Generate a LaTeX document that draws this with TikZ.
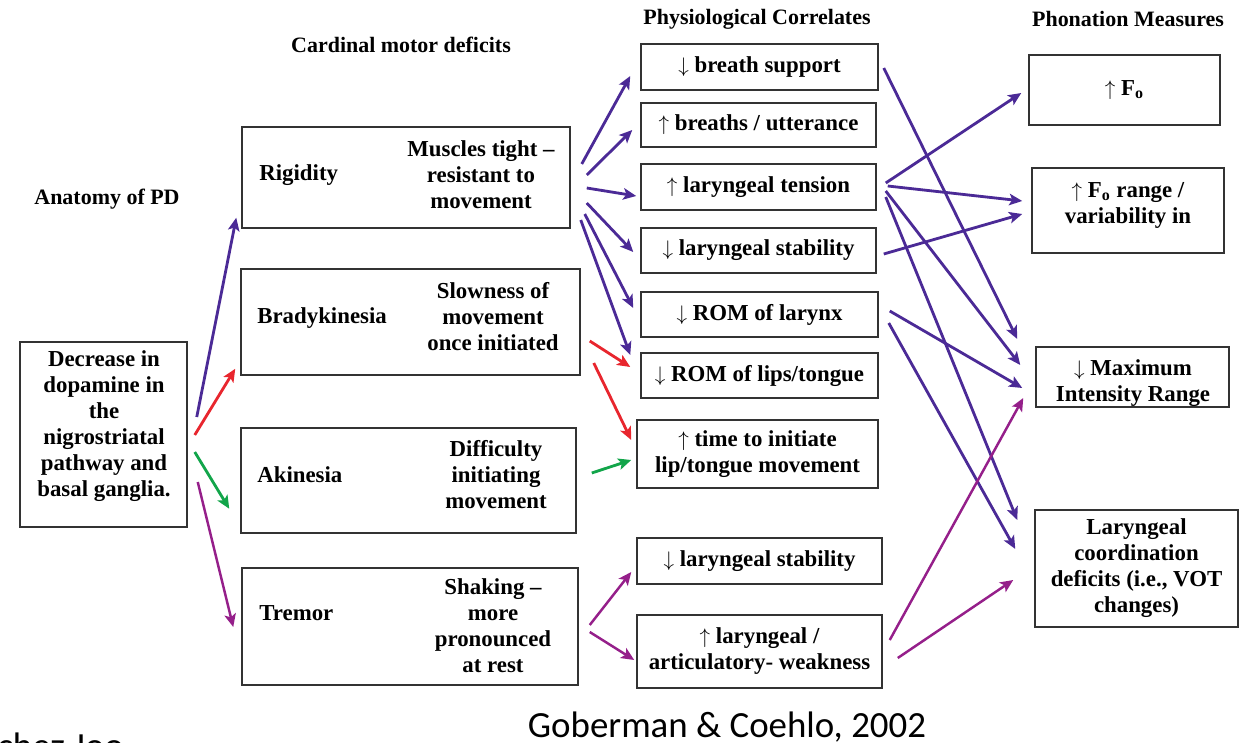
\documentclass[tikz,border=0pt]{standalone}
\usepackage{fontspec}
\setmainfont{Liberation Serif}
\newfontfamily\citefont{Carlito}
\usetikzlibrary{arrows.meta,fit}
\definecolor{pdpurple}{HTML}{4B2A96}
\definecolor{pdred}{HTML}{E8262E}
\definecolor{pdgreen}{HTML}{12A54A}
\definecolor{pdmagenta}{HTML}{951F8A}
\newcommand{\dn}{$\downarrow$}
\newcommand{\upar}{$\uparrow$}
\tikzset{
  box/.style={draw=black!80, line width=0.85pt, inner sep=0pt, fit={#1}},
  txt/.style={font=\bfseries\fontsize{13}{14.8}\selectfont, align=center, inner sep=0pt},
  head/.style={font=\bfseries\fontsize{12.5}{14}\selectfont, inner sep=0pt},
  link/.style={line width=1.6pt, -{Stealth[length=2.6mm,width=2.3mm,inset=0.6mm]}},
  cite/.style={font=\citefont\fontsize{21}{25}\selectfont, inner sep=0pt},
}
\begin{document}
\begin{tikzpicture}[x=0.02cm, y=-0.02cm]
\useasboundingbox (0,0) rectangle (1253,743);

% column headings
\node[head] (h-anat) at (107,199) {Anatomy of PD};
\node[head] (h-card) at (401,45) {Cardinal motor deficits};
\node[head] (h-phys) at (757,19) {Physiological Correlates};
\node[head] (h-phon) at (1128,19) {Phonation Measures};

% anatomy
\node[box={(20,342) (187,527)}] (dec) {};
\node[txt] (dec-t) at (104,426) {Decrease in\\dopamine in\\the\\nigrostriatal\\pathway and\\basal ganglia.};

% cardinal motor deficits
\node[box={(242,127) (570,228)}] (rig) {};
\node[txt, anchor=west] (rig-l) at (259,175) {Rigidity};
\node[txt] (rig-r) at (481,175) {Muscles tight --\\resistant to\\movement};

\node[box={(241,269) (580,375)}] (bra) {};
\node[txt, anchor=west] (bra-l) at (257,318) {Bradykinesia};
\node[txt] (bra-r) at (493,317) {Slowness of\\movement\\once initiated};

\node[box={(241,428) (576,533)}] (aki) {};
\node[txt, anchor=west] (aki-l) at (257,475) {Akinesia};
\node[txt] (aki-r) at (496,475) {Difficulty\\initiating\\movement};

\node[box={(242,568) (578,685)}] (tre) {};
\node[txt, anchor=west] (tre-l) at (259,613) {Tremor};
\node[txt] (tre-r) at (493,626) {Shaking --\\more\\pronounced\\at rest};

% physiological correlates
\node[box={(641,44) (878,90)}] (bs) {};
\node[txt] (bs-t) at (bs) {\dn\ breath support};
\node[box={(641,103) (876,147)}] (bu) {};
\node[txt] (bu-t) at (bu) {\upar\ breaths / utterance};
\node[box={(641,164) (876,210)}] (lt) {};
\node[txt] (lt-t) at (lt) {\upar\ laryngeal tension};
\node[box={(641,228) (876,273)}] (ls) {};
\node[txt] (ls-t) at (ls) {\dn\ laryngeal stability};
\node[box={(641,292) (878,337)}] (rl) {};
\node[txt] (rl-t) at (rl) {\dn\ ROM of larynx};
\node[box={(641,353) (878,398)}] (rlt) {};
\node[txt] (rlt-t) at (rlt) {\dn\ ROM of lips/tongue};
\node[box={(637,420) (878,488)}] (ti) {};
\node[txt] (ti-t) at (ti) {\upar\ time to initiate\\lip/tongue movement};
\node[box={(637,538) (882,584)}] (ls2) {};
\node[txt] (ls2-t) at (ls2) {\dn\ laryngeal stability};
\node[box={(637,615) (882,688)}] (wk) {};
\node[txt] (wk-t) at (wk) {\upar\ laryngeal /\\articulatory- weakness};

% phonation measures
\node[box={(1029,55) (1220,125)}] (f0) {};
\node[txt] (f0-t) at (f0) {\upar\ F\textsubscript{o}};
\node[box={(1032,168) (1224,253)}] (fr) {};
\node[txt] (fr-t) at (1128,205) {\upar\ F\textsubscript{o} range /\\variability in};
\node[box={(1036,347) (1229,407)}] (mi) {};
\node[txt] (mi-t) at (1133,383) {\dn\ Maximum\\Intensity Range};
\node[box={(1035,510) (1238,627)}] (lc) {};
\node[txt] (lc-t) at (lc) {Laryngeal\\coordination\\deficits (i.e., VOT\\changes)};

% anatomy -> cardinal deficits
\draw[link, pdpurple] ([shift={(9,-17.5)}]dec.east) -- ([shift={(-5,-11)}]rig.south west);
\draw[link, pdred] ([shift={(7,0.5)}]dec.east) -- ([shift={(-5,-7)}]bra.south west);
\draw[link, pdgreen] ([shift={(7,17.5)}]dec.east) -- ([shift={(-11,-25)}]aki.south west);
\draw[link, pdmagenta, line width=1.4pt] ([shift={(10,47.5)}]dec.east) -- ([shift={(-8,0.5)}]tre.west);

% rigidity -> physiological correlates
\draw[link, pdpurple] ([shift={(11,-13.5)}]rig.east) -- ([shift={(-10,9)}]bs.west);
\draw[link, pdpurple] ([shift={(16,-2.5)}]rig.east) -- ([shift={(-8,5)}]bu.west);
\draw[link, pdpurple] ([shift={(16,10.5)}]rig.east) -- ([shift={(-4,9)}]lt.west);
\draw[link, pdpurple] ([shift={(16,25.5)}]rig.east) -- ([shift={(-7,1.5)}]ls.west);
\draw[link, pdpurple] ([shift={(14,36.5)}]rig.east) -- ([shift={(-7,-6.5)}]rl.west);
\draw[link, pdpurple] ([shift={(10,42.5)}]rig.east) -- ([shift={(-10,-20.5)}]rlt.west);

% bradykinesia
\draw[link, pdred] ([shift={(9,19)}]bra.east) -- ([shift={(-10,-8.5)}]rlt.west);
\draw[link, pdred] ([shift={(13,41)}]bra.east) -- ([shift={(-5,-14)}]ti.west);

% akinesia
\draw[link, pdgreen] ([shift={(15,-7.5)}]aki.east) -- ([shift={(-5,6)}]ti.west);

% tremor
\draw[link, pdmagenta, line width=1.4pt] ([shift={(11,-1.5)}]tre.east) -- ([shift={(-5,11)}]ls2.west);
\draw[link, pdmagenta, line width=1.4pt] ([shift={(11,5.5)}]tre.east) -- ([shift={(-2,8.5)}]wk.west);

% physiological correlates -> phonation measures
\draw[link, pdpurple] ([shift={(5,1)}]bs.east) -- ([shift={(-18,-38)}]mi.west);
\draw[link, pdpurple] ([shift={(9,-4)}]lt.east) -- ([shift={(-7,3)}]f0.west);
\draw[link, pdpurple] ([shift={(11,-1)}]lt.east) -- ([shift={(-9,-9.5)}]fr.west);
\draw[link, pdpurple] ([shift={(7,3.5)}]ls.east) -- ([shift={(-9,3.5)}]fr.west);
\draw[link, pdpurple] ([shift={(9,4)}]lt.east) -- ([shift={(-15,-12)}]mi.west);
\draw[link, pdpurple] ([shift={(9,10)}]lt.east) -- ([shift={(-17,-48.5)}]lc.west);
\draw[link, pdpurple] ([shift={(11,-3.5)}]rl.east) -- ([shift={(-13,11)}]mi.west);
\draw[link, pdpurple] ([shift={(10,8.5)}]rl.east) -- ([shift={(-19,-19.5)}]lc.west);
\draw[link, pdmagenta, line width=1.4pt] ([shift={(7,-11.5)}]wk.east) -- ([shift={(-12,21)}]mi.west);
\draw[link, pdmagenta, line width=1.4pt] ([shift={(15,6.5)}]wk.east) -- ([shift={(-21,11.5)}]lc.west);

% source line and slide text running off the page
\node[cite, anchor=base] (cite) at (727,737) {Goberman \& Coehlo, 2002};
\node[cite, anchor=base west] (cut) at (-3,758) {chez Joo};
\end{tikzpicture}
\end{document}
